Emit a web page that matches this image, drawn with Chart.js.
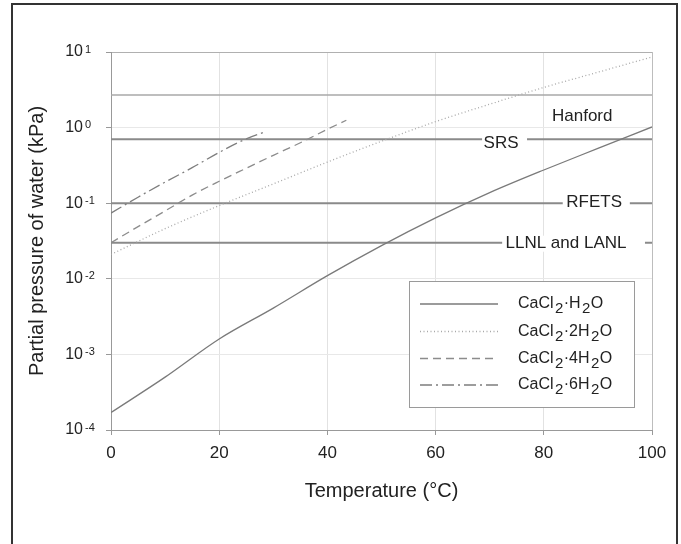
<!DOCTYPE html>
<html lang="en">
<head>
<meta charset="UTF-8">
<title>Partial pressure of water over CaCl2 hydrates</title>
<script src="https://cdn.jsdelivr.net/npm/chart.js"></script>
<style>
  html, body { margin: 0; padding: 0; background: #fff; }
  #wrap { width: 681px; height: 544px; }
</style>
</head>
<body>
<div id="wrap"><canvas id="chart" width="681" height="544"></canvas></div>
<script>
// Data (temperature in °C, pressure in kPa)
const mono1Temp = [0, 10, 20, 30, 40, 50, 60, 70, 80, 90, 100];
const mono1Pres = [1.7e-4, 5.0e-4, 1.6e-3, 4.1e-3, 0.011, 0.0275, 0.064, 0.138, 0.275, 0.53, 1.02];

const di2Temp = [0, 10, 20, 30, 40, 50, 60, 70, 80, 90, 100];
const di2Pres = [0.021, 0.046, 0.093, 0.18, 0.35, 0.66, 1.2, 2.04, 3.4, 5.4, 8.6];

const tetra4Temp = [0, 5, 10, 15, 20, 25, 30, 35, 40, 43.5];
const tetra4Pres = [0.030, 0.049, 0.079, 0.128, 0.195, 0.29, 0.43, 0.63, 0.95, 1.25];

const hexa6Temp = [0, 5, 10, 15, 20, 25, 28.5];
const hexa6Pres = [0.074, 0.12, 0.19, 0.295, 0.47, 0.71, 0.88];

// site storage limits (horizontal lines)
const siteNames = ['Hanford', 'SRS', 'RFETS', 'LLNL and LANL'];
const siteValues = [2.7, 0.7, 0.1, 0.03];

const xTicks = [0, 20, 40, 60, 80, 100];
const yTicks = [1e-4, 1e-3, 1e-2, 1e-1, 1, 10];

// legend entries: number of waters in front of H2O
const seriesWater = ['', '2', '4', '6'];

const toPts = (xs, ys) => xs.map((x, i) => ({ x: x, y: ys[i] }));

const curveStyles = [
  { color: '#7a7a7a', dash: [] },
  { color: '#a8a8a8', dash: [1, 2.5] },
  { color: '#8c8c8c', dash: [8, 5] },
  { color: '#7e7e7e', dash: [12, 4, 2, 4] },
];

const curves = [
  toPts(mono1Temp, mono1Pres),
  toPts(di2Temp, di2Pres),
  toPts(tetra4Temp, tetra4Pres),
  toPts(hexa6Temp, hexa6Pres),
];

const datasets = curves.map((pts, i) => ({
  label: 'CaCl2·' + (seriesWater[i] || '') + 'H2O',
  data: pts,
  borderColor: curveStyles[i].color,
  borderDash: curveStyles[i].dash,
  borderWidth: 1.3,
  pointRadius: 0,
  cubicInterpolationMode: 'monotone',
  fill: false,
}));

siteValues.forEach((v, i) => {
  datasets.push({
    label: siteNames[i],
    data: [{ x: 0, y: v }, { x: 100, y: v }],
    borderColor: i === 0 ? '#a9a9a9' : '#8a8a8a',
    borderWidth: i === 0 ? 1.5 : 2,
    pointRadius: 0,
    fill: false,
  });
});

// label placement for the site lines: centre (°C), gap cut into the line (°C), offset from line (px)
const siteLabelStyle = [
  { at: 87.1, gap: null, dy: 21 },
  { at: 72.1, gap: [68.6, 76.9], dy: 4 },
  { at: 89.3, gap: [83.5, 95.9], dy: -1 },
  { at: 84.1, gap: [72.3, 98.7], dy: 1 },
];

const FONT = '"Liberation Sans", Arial, sans-serif';

const extras = {
  id: 'extras',
  beforeDraw(chart) {
    const c = chart.ctx;
    c.save();
    c.fillStyle = '#fff';
    c.fillRect(0, 0, chart.width, chart.height);
    c.strokeStyle = '#333';
    c.lineWidth = 2;
    c.strokeRect(12, 4, 665, 600);
    c.restore();
  },
  afterDatasetsDraw(chart) {
    const c = chart.ctx;
    const xs = chart.scales.x, ys = chart.scales.y;
    c.save();
    c.font = '17px ' + FONT;
    c.textAlign = 'center';
    c.textBaseline = 'middle';
    siteValues.forEach((v, i) => {
      const st = siteLabelStyle[i];
      const py = ys.getPixelForValue(v);
      const cx = xs.getPixelForValue(st.at);
      const w = c.measureText(siteNames[i]).width;
      c.fillStyle = '#fff';
      if (st.gap) {
        const g0 = xs.getPixelForValue(st.gap[0]);
        const g1 = xs.getPixelForValue(st.gap[1]);
        c.fillRect(g0, py - 3, g1 - g0, 6);
      }
      c.fillRect(cx - w / 2 - 1, py + st.dy - 8, w + 2, 16);
      c.fillStyle = '#222';
      c.fillText(siteNames[i], cx, py + st.dy);
    });
    c.restore();
  },
  afterDraw(chart) {
    const c = chart.ctx;
    const ys = chart.scales.y;
    c.save();
    // y tick labels as powers of ten
    c.fillStyle = '#222';
    ys.ticks.forEach(t => {
      const py = ys.getPixelForValue(t.value);
      const e = Math.round(Math.log10(t.value));
      c.font = '16px ' + FONT;
      c.textAlign = 'right';
      c.textBaseline = 'middle';
      c.fillText('10', 83, py);
      c.font = '11px ' + FONT;
      c.textAlign = 'left';
      c.textBaseline = 'alphabetic';
      c.fillText(String(e), 85, py + 0.5);
    });

    // legend box
    const bx = 409.5, by = 281.5, bw = 225, bh = 126;
    c.fillStyle = '#fff';
    c.fillRect(bx, by, bw, bh);
    c.strokeStyle = '#9a9a9a';
    c.lineWidth = 1;
    c.strokeRect(bx, by, bw, bh);
    const rowY = [304, 331.5, 358.5, 385];
    curveStyles.forEach((s, i) => {
      const y = rowY[i];
      c.strokeStyle = s.color;
      c.lineWidth = 1.3;
      c.setLineDash(s.dash);
      c.beginPath();
      c.moveTo(420, y);
      c.lineTo(498, y);
      c.stroke();
      c.setLineDash([]);
      // CaCl2·nH2O with lowered 2s
      let x = 518;
      const main = '16px ' + FONT, sub = '15px ' + FONT;
      const parts = [
        ['CaCl', main, 0], ['2', sub, 5], ['·' + seriesWater[i] + 'H', main, 0], ['2', sub, 5], ['O', main, 0],
      ];
      c.fillStyle = '#222';
      c.textAlign = 'left';
      c.textBaseline = 'middle';
      parts.forEach(p => {
        c.font = p[1];
        c.fillText(p[0], x, y + p[2]);
        x += c.measureText(p[0]).width + (p[2] ? 0.3 : 1.5);
      });
    });
    c.restore();
  }
};

new Chart(document.getElementById('chart'), {
  type: 'line',
  data: { datasets: datasets },
  options: {
    responsive: false,
    animation: false,
    layout: { padding: { left: 14, top: 52, right: 29, bottom: 20 } },
    scales: {
      x: {
        type: 'linear',
        min: 0,
        max: 100,
        afterBuildTicks: s => { s.ticks = xTicks.map(v => ({ value: v })); },
        afterFit: s => { s.height = 94; },
        ticks: { font: { size: 17, family: FONT }, color: '#222', padding: 8, maxRotation: 0 },
        grid: {
          color: c => (c.tick && c.tick.value === 100) ? '#bdbdbd' : '#e2e2e2',
          tickColor: '#999',
          tickLength: 5,
        },
        border: { color: '#999' },
        title: {
          display: true,
          text: 'Temperature (°C)',
          font: { size: 20, family: FONT },
          color: '#222',
          padding: { top: 0, bottom: 21 },
        },
      },
      y: {
        type: 'logarithmic',
        min: 1e-4,
        max: 10,
        afterBuildTicks: s => { s.ticks = yTicks.map(v => ({ value: v })); },
        afterFit: s => { s.width = 97; },
        ticks: { callback: () => '' },
        grid: {
          color: c => (c.tick && c.tick.value === 10) ? '#b0b0b0' : '#e8e8e8',
          tickColor: '#999',
          tickLength: 5,
        },
        border: { color: '#999' },
        title: {
          display: true,
          text: 'Partial pressure of water (kPa)',
          font: { size: 20, family: FONT },
          color: '#222',
          padding: { top: 11, bottom: 0 },
        },
      },
    },
    plugins: { legend: { display: false }, tooltip: { enabled: false } },
  },
  plugins: [extras],
});
</script>
</body>
</html>
